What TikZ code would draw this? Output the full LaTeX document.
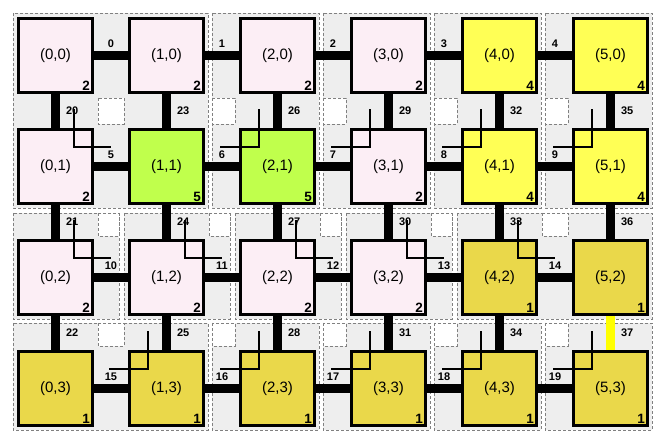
\documentclass[tikz,border=0pt]{standalone}
\usepackage{fontspec}
\setmainfont{Liberation Sans}
\usetikzlibrary{calc}
\pgfdeclarelayer{back}
\pgfdeclarelayer{mid}
\pgfsetlayers{back,mid,main}
\definecolor{cpink}{RGB}{252,238,245}
\definecolor{cgreen}{RGB}{192,255,76}
\definecolor{cyellow}{RGB}{255,255,85}
\definecolor{cgold}{RGB}{234,216,74}
\definecolor{cregion}{RGB}{238,238,238}
\definecolor{cdash}{RGB}{128,128,128}
\definecolor{cbar}{RGB}{255,255,0}
\begin{document}
\begin{tikzpicture}[x=1pt,y=-1pt,
  region/.style={fill=cregion, draw=cdash, dash pattern=on 3pt off 2pt, line width=0.9pt},
  hole/.style={fill=white, draw=cdash, dash pattern=on 3pt off 2pt, line width=0.9pt},
  router/.style={draw=black, line width=3pt, minimum size=74pt, inner sep=0pt, font=\fontsize{15}{18}\selectfont},
  bar/.style={line width=9pt},
  turn/.style={line width=2pt, line join=miter},
  elabel/.style={inner sep=0pt, font=\fontsize{11}{13}\selectfont\bfseries},
  cnum/.style={inner sep=0pt, font=\fontsize{13.5}{16}\selectfont\bfseries}]
\useasboundingbox (0,0) rectangle (667,446);

% routers
\foreach \i/\j/\c/\n in {0/0/cpink/2,1/0/cpink/2,2/0/cpink/2,3/0/cpink/2,4/0/cyellow/4,5/0/cyellow/4,
  0/1/cpink/2,1/1/cgreen/5,2/1/cgreen/5,3/1/cpink/2,4/1/cyellow/4,5/1/cyellow/4,
  0/2/cpink/2,1/2/cpink/2,2/2/cpink/2,3/2/cpink/2,4/2/cgold/1,5/2/cgold/1,
  0/3/cgold/1,1/3/cgold/1,2/3/cgold/1,3/3/cgold/1,4/3/cgold/1,5/3/cgold/1}{
  \node[router, fill=\c] (n\i\j) at ({55.5+111*\i},{55.5+111*\j}) {(\i,\j)};
  \node[cnum, anchor=south east] (c\i\j) at ($(n\i\j.south east)+(-4,-3)$) {\n};
}

% regions and holes
\begin{pgfonlayer}{back}
\foreach \a/\b/\c/\d in {13/13/208/208, 212/13/319/208, 323/13/430/208, 434/13/541/208, 545/13/652/208,
  13/213/119/319, 124/213/230/319, 235/213/341/319, 346/213/452/319, 457/213/652/319,
  13/323/208/430, 212/323/319/430, 323/323/430/430, 434/323/541/430, 545/323/652/430}
  \draw[region] (\a,\b) rectangle (\c,\d);
\foreach \a/\b/\c/\d in {98/98/124/124, 212/98/235/124, 323/98/346/124, 434/98/457/124, 545/98/568/124,
  98/213/119/236, 209/213/230/236, 320/213/341/236, 431/213/452/236, 542/213/568/236,
  98/323/124/346, 212/323/235/346, 323/323/346/346, 434/323/457/346, 545/323/568/346}
  \draw[hole] (\a,\b) rectangle (\c,\d);
\end{pgfonlayer}

% links
\begin{pgfonlayer}{mid}
\foreach \j in {0,...,3}{\foreach \i in {0,...,4}{
  \pgfmathtruncatemacro\k{\i+1}
  \pgfmathtruncatemacro\e{5*\j+\i}
  \draw[bar] (n\i\j.east) -- node[elabel, anchor=base, yshift=8pt] (e\e) {\e} (n\k\j.west);
}}
\foreach \i in {0,...,5}{\foreach \j in {0,1,2}{
  \pgfmathtruncatemacro\k{\j+1}
  \pgfmathtruncatemacro\e{20+3*\i+\j}
  \ifnum\e=37 \def\bcol{cbar}\else\def\bcol{black}\fi
  \draw[bar, draw=\bcol] (n\i\j.south) -- node[elabel, anchor=base west, xshift=6pt, yshift=-4pt] (e\e) {\e} (n\i\k.north);
}}
\end{pgfonlayer}

% turns
\foreach \i/\j in {2/1,3/1,4/1,5/1,1/3,2/3,3/3,4/3,5/3}
  \draw[turn] ($(n\i\j.north west)+(19.5,-18.5)$) -- ++(0,38) -- ($(n\i\j.north west)+(-19,19.5)$);
\foreach \i/\j in {0/1,0/2,1/2,2/2,3/2,4/2}
  \draw[turn] ($(n\i\j.north east)+(-20,-18.5)$) -- ++(0,38) -- ($(n\i\j.north east)+(17,19.5)$);
\end{tikzpicture}
\end{document}
